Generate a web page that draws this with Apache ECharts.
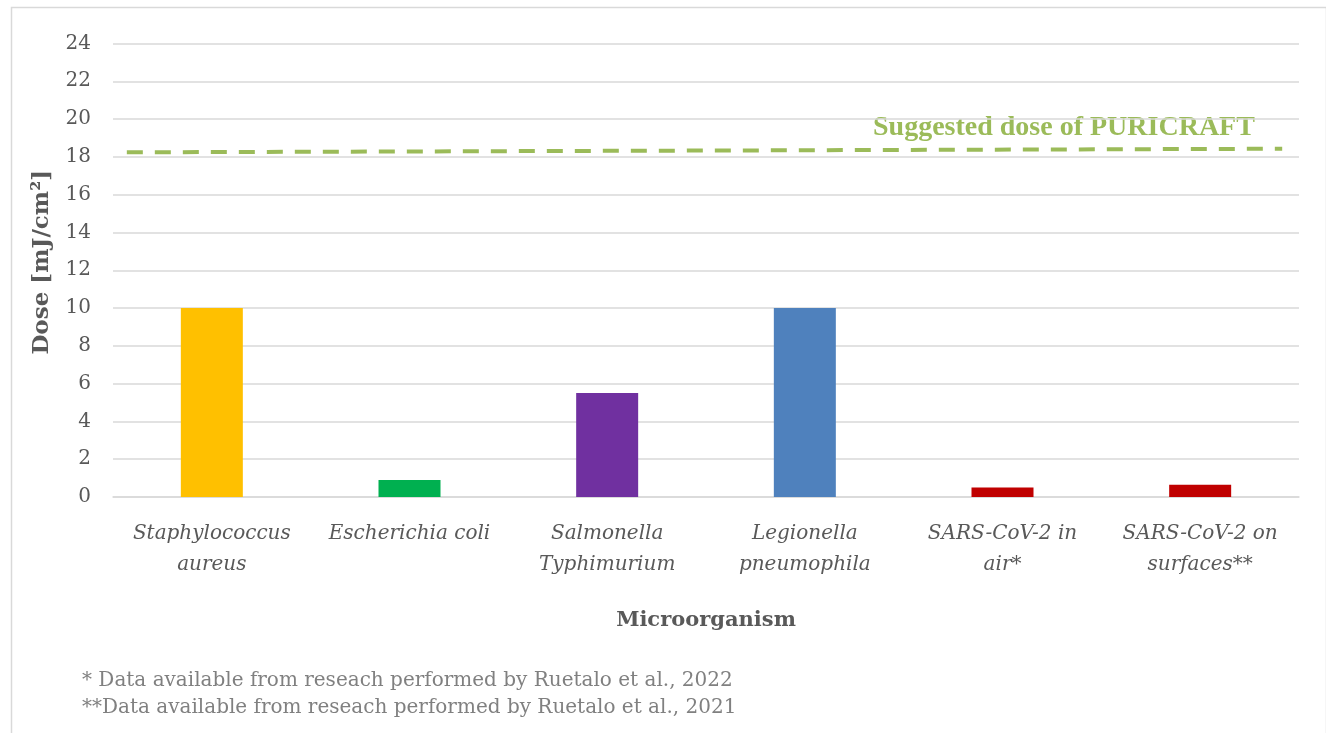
<!DOCTYPE html>
<html><head><meta charset="utf-8">
<script src="https://cdn.jsdelivr.net/npm/echarts@6/dist/echarts.min.js"></script>
<style>html,body{margin:0;padding:0;background:#fff}#c{width:1326px;height:733px}</style>
</head><body><div id="c"></div>
<script>
const categories = ['Staphylococcus\naureus', 'Escherichia coli', 'Salmonella\nTyphimurium', 'Legionella\npneumophila', 'SARS-CoV-2 in\nair*', 'SARS-CoV-2 on\nsurfaces**'];
const doses = [10, 0.9, 5.5, 10, 0.5, 0.65];
const barColors = ['#FFC000', '#00B050', '#7030A0', '#4F81BD', '#C00000', '#C00000'];
const suggestedLineX = [0.07, 5.915];
const suggestedLineY = [18.24, 18.43];
const suggestedLabel = 'Suggested dose of PURICRAFT';
const yTicks = {min: 0, max: 24, interval: 2};
const footnotes = ['* Data available from reseach performed by Ruetalo et al., 2022', '**Data available from reseach performed by Ruetalo et al., 2021'];

const serif = '"DejaVu Serif", "Liberation Serif", serif';
const chart = echarts.init(document.getElementById('c'));
chart.setOption({
  animation: false,
  grid: {left: 113, right: 27, top: 43.5, bottom: 236},
  xAxis: [{
    type: 'category', data: categories,
    axisLine: {lineStyle: {color: '#d9d9d9', width: 1.5}},
    axisTick: {show: false},
    axisLabel: {fontFamily: serif, fontStyle: 'italic', fontSize: 20, color: '#595959', lineHeight: 31, margin: 21, interval: 0},
    name: 'Microorganism', nameLocation: 'middle', nameGap: 113,
    nameTextStyle: {fontFamily: serif, fontWeight: 'bold', fontSize: 21, color: '#595959'}
  }, {
    type: 'value', min: 0, max: 6, show: false
  }],
  yAxis: {
    type: 'value', min: yTicks.min, max: yTicks.max, interval: yTicks.interval,
    axisLine: {show: false}, axisTick: {show: false},
    splitLine: {lineStyle: {color: '#d9d9d9', width: 1.5}},
    axisLabel: {fontFamily: serif, fontSize: 20, color: '#595959', margin: 22},
    name: 'Dose [mJ/cm²]', nameLocation: 'middle', nameGap: 59,
    nameTextStyle: {fontFamily: serif, fontWeight: 'bold', fontSize: 23, color: '#595959', padding: [0, 0, 0, 16]}
  },
  series: [{
    type: 'bar', xAxisIndex: 0, barWidth: 62,
    data: doses.map((v, i) => ({value: v, itemStyle: {color: barColors[i]}}))
  }, {
    type: 'line', xAxisIndex: 1, symbol: 'none',
    data: suggestedLineX.map((x, i) => [x, suggestedLineY[i]]),
    lineStyle: {color: '#9BBB59', width: 4, type: [16, 12]}
  }],
  graphic: [
    {type: 'rect', left: 9, top: 5, shape: {width: 1315, height: 760}, style: {fill: 'none', stroke: '#d9d9d9', lineWidth: 1.5}, silent: true},
    {type: 'text', left: 873, top: 114, style: {text: suggestedLabel, font: 'bold 28px "Liberation Serif", serif', fill: '#9BBB59'}},
    {type: 'text', left: 82, top: 671, style: {text: footnotes[0], font: '20px ' + serif, fill: '#808080'}},
    {type: 'text', left: 82, top: 698, style: {text: footnotes[1], font: '20px ' + serif, fill: '#808080'}}
  ]
});
</script></body></html>
